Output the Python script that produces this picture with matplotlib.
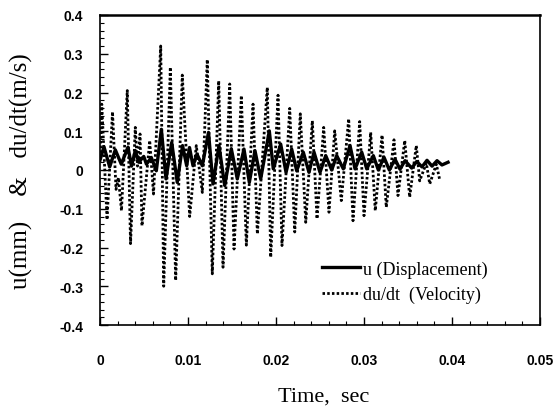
import matplotlib
matplotlib.use("Agg")
import matplotlib.pyplot as plt
from matplotlib.ticker import MultipleLocator, FuncFormatter

# ---- data (time in s) ----
vel_t = [0.0, 0.0002, 0.0008, 0.00142, 0.00182, 0.0021, 0.00244, 0.0031, 0.00347,
         0.00401, 0.00426, 0.00455, 0.00477, 0.00565, 0.00608, 0.0069, 0.00724,
         0.00799, 0.0086, 0.00935, 0.01019, 0.01094, 0.01163, 0.01219, 0.01276,
         0.01349, 0.01398, 0.01474, 0.01523, 0.01606, 0.01663, 0.01739, 0.01788,
         0.01901, 0.0194, 0.02023, 0.02068, 0.02156, 0.02213, 0.02276, 0.02338,
         0.02413, 0.02466, 0.02542, 0.02602, 0.02667, 0.02742, 0.02826, 0.02875,
         0.02951, 0.03, 0.03076, 0.03128, 0.03205, 0.03253, 0.03341, 0.03386,
         0.03463, 0.03519, 0.03594, 0.03633, 0.03708, 0.03747, 0.03822, 0.0386]
vel_v = [0.02, 0.17, -0.128, 0.15, -0.05, -0.02, -0.105, 0.205, -0.19,
         0.11, 0.01, 0.093, -0.144, 0.076, -0.062, 0.32, -0.30,
         0.265, -0.285, 0.245, -0.12, 0.063, -0.058, 0.285, -0.268,
         0.23, -0.251, 0.222, -0.204, 0.192, -0.194, 0.17, -0.165,
         0.213, -0.225, 0.193, -0.195, 0.159, -0.16, 0.145, -0.135,
         0.127, -0.126, 0.11, -0.109, 0.101, -0.079, 0.132, -0.131,
         0.125, -0.118, 0.097, -0.105, 0.09, -0.096, 0.078, -0.066,
         0.076, -0.07, 0.063, -0.028, 0.018, -0.036, 0.015, -0.025]

disp_t = [0.00006, 0.00045, 0.0011, 0.00174, 0.00242, 0.00318, 0.00358, 0.00401,
          0.0044, 0.00497, 0.00528, 0.00583, 0.0064, 0.00697, 0.0075, 0.00815,
          0.00878, 0.00938, 0.00985, 0.01017, 0.01057, 0.01102, 0.01163, 0.01233,
          0.01284, 0.01352, 0.01417, 0.01492, 0.0156, 0.01636, 0.01697, 0.01761,
          0.01826, 0.01924, 0.01969, 0.02053, 0.02114, 0.02178, 0.02235, 0.0231,
          0.02375, 0.02432, 0.025, 0.02565, 0.02633, 0.0269, 0.02765, 0.02841,
          0.02898, 0.02974, 0.03031, 0.03106, 0.03163, 0.03227, 0.03288, 0.03352,
          0.03409, 0.03466, 0.03542, 0.03599, 0.03659, 0.03716, 0.03773, 0.0383,
          0.03886, 0.03955]
disp_u = [0.03, 0.06, 0.008, 0.052, 0.015, 0.059, 0.01, 0.05,
          0.02, 0.035, 0.015, 0.032, -0.002, 0.105, -0.023, 0.071,
          -0.032, 0.063, 0.011, 0.058, 0.011, 0.041, 0.011, 0.097,
          -0.036, 0.063, -0.04, 0.055, -0.023, 0.054, -0.032, 0.05,
          -0.023, 0.101, 0.003, 0.067, -0.006, 0.054, -0.002, 0.046,
          -0.006, 0.046, -0.006, 0.037, 0.0, 0.037, 0.003, 0.063,
          0.003, 0.046, 0.003, 0.037, 0.0, 0.033, 0.0, 0.028,
          0.002, 0.024, 0.005, 0.022, 0.008, 0.025, 0.01, 0.024,
          0.013, 0.02]

x_ticks = [0, 0.01, 0.02, 0.03, 0.04, 0.05]
y_ticks = [-0.4, -0.3, -0.2, -0.1, 0, 0.1, 0.2, 0.3, 0.4]
labels = ["u (Displacement)", "du/dt  (Velocity)"]

serif = "Liberation Serif"
sans = "Liberation Sans"

fig = plt.figure(figsize=(5.56, 4.10), dpi=100)
ax = fig.add_axes([100/556, 1 - 326/410, 440/556, 310/410])

ax.plot(disp_t, disp_u, color="black", lw=2.4, solid_joinstyle="round", label=labels[0])
ax.plot(vel_t, vel_v, color="black", lw=2.0, linestyle=(0, (0.9, 0.8)), label=labels[1])

ax.set_xlim(0, 0.05)
ax.set_ylim(-0.4, 0.4)
ax.set_xticks(x_ticks)
ax.set_yticks(y_ticks)
ax.xaxis.set_minor_locator(MultipleLocator(0.002))
ax.yaxis.set_minor_locator(MultipleLocator(0.02))

def fmt(v, pos):
    s = ("%.2f" % v).rstrip("0").rstrip(".")
    return "0" if s in ("0", "-0") else s
ax.xaxis.set_major_formatter(FuncFormatter(fmt))
ax.yaxis.set_major_formatter(FuncFormatter(fmt))

ax.tick_params(which="major", direction="in", length=6, width=1, top=False, right=False)
ax.tick_params(which="minor", direction="in", length=3, width=0.8, top=False, right=False)
ax.tick_params(axis="x", which="major", pad=20)
ax.tick_params(axis="y", which="major", pad=12)
for lab in ax.get_xticklabels() + ax.get_yticklabels():
    lab.set_fontfamily(sans)
    lab.set_fontsize(10)
    lab.set_fontweight("bold")

for sp in ax.spines.values():
    sp.set_linewidth(1.2)
ax.spines["top"].set_linewidth(1.8)

ax.set_xlabel("Time,  sec", fontfamily=serif, fontsize=16)
ax.set_ylabel("u(mm)    &   du/dt(m/s)", fontfamily=serif, fontsize=18)
ax.xaxis.set_label_coords(0.508, -0.2)
ax.yaxis.set_label_coords(-0.152, 0.5)

leg = ax.legend(loc="upper left", bbox_to_anchor=(0.505, 0.208), frameon=False,
                borderpad=0, borderaxespad=0, handlelength=2.1, handletextpad=0.15,
                labelspacing=0.45, prop={"family": serif, "size": 13})

fig.savefig("out.png", dpi=100)
